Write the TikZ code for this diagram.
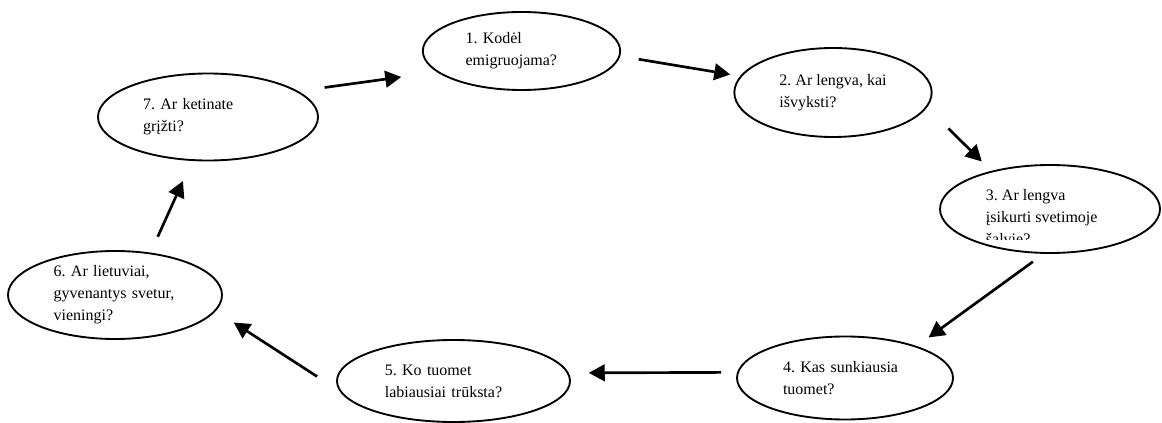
\documentclass[tikz,border=0pt]{standalone}
\usepackage{fontspec}
\setmainfont{Liberation Serif}
\usepackage{tikz}
\usetikzlibrary{shapes.geometric, arrows.meta, positioning}
\tikzset{
  klausimas/.style={ellipse, draw=black, line width=1.4pt, inner sep=0pt,
                    align=left, font=\fontsize{12}{16.5}\selectfont\frenchspacing},
  frazetekstas/.style={rectangle, draw=none, fill=none, inner sep=0pt,
                       minimum width=0pt, minimum height=0pt, align=left,
                       font=\fontsize{12}{16.5}\selectfont\frenchspacing},
  rodykle/.style={-{Triangle[length=12pt,width=12.5pt]}, line width=2pt}
}

\begin{document}
\begin{tikzpicture}[x=0.75pt, y=-0.75pt]

  \useasboundingbox (0,0) rectangle (1162,423);

  % Klausimai
  \node[klausimas, minimum width=148pt, minimum height=58.5pt, text width=84pt] (q1)
      at (521.5,51) {1. Kodėl\\emigruojama?};
  \node[klausimas, minimum width=148pt, minimum height=66.75pt] (q2)
      at (833,92.5) {2. Ar lengva, kai\\išvyksti?};
  \node[klausimas, minimum width=165pt, minimum height=66pt,
        path picture={
          \clip ([shift={(-130,31)}]path picture bounding box.center) rectangle
                ([shift={(130,-60)}]path picture bounding box.center);
          \node[frazetekstas, anchor=north west] (t3)
              at ([shift={(-65,-21)}]path picture bounding box.center)
              {3. Ar lengva\\įsikurti svetimoje\\šalvie?};
        }] (q3) at (1050,209) {};
  \node[klausimas, minimum width=162pt, minimum height=62.25pt, text width=93pt] (q4)
      at (845,378) {4. Kas sunkiausia\\tuomet?};
  \node[klausimas, minimum width=174.75pt, minimum height=61.5pt, text width=103pt] (q5)
      at (453.5,381) {5. Ko tuomet\\labiausiai trūksta?};
  \node[klausimas, minimum width=160.5pt, minimum height=66pt, text width=92pt] (q6)
      at (115,295) {6. Ar lietuviai,\\gyvenantys svetur,\\vieningi?};
  \node[klausimas, minimum width=165pt, minimum height=65.25pt, text width=97.5pt] (q7)
      at (208,117) {7. Ar ketinate\\grįžti?};

  % Rodyklės
  \draw[rodykle, shorten <=20pt, shorten >=27pt] (q7.16) -- (q1.194);
  \draw[rodykle, shorten <=14pt, shorten >=7.5pt] (q1.-3) -- (q2.170);
  \draw[rodykle, shorten <=22.5pt, shorten >=10pt] (q2.-9) -- (q3.147);
  \draw[rodykle, shorten <=10pt, shorten >=11pt] (q3.-98) -- (q4.24);
  \draw[rodykle, shorten <=12pt, shorten >=15pt] (q4.177) -- (q5.4);
  \draw[rodykle, shorten <=20pt, shorten >=16pt] (q5.185) -- (q6.-9);
  \draw[rodykle, shorten <=13pt, shorten >=16.5pt] (q6.50) -- (q7.-110);

\end{tikzpicture}
\end{document}
